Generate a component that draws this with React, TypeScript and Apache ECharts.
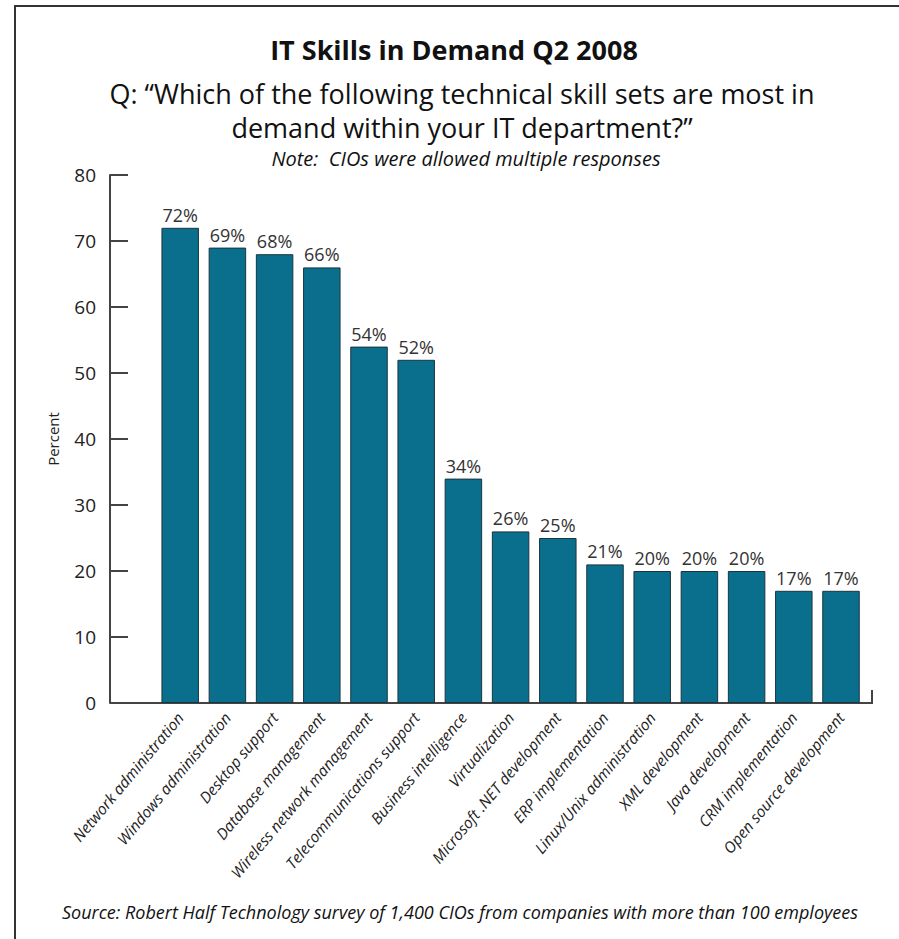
import React, { useEffect, useRef } from "react";
import * as echarts from "echarts";

const categories = [
  "Network administration",
  "Windows administration",
  "Desktop support",
  "Database management",
  "Wireless network management",
  "Telecommunications support",
  "Business intelligence",
  "Virtualization",
  "Microsoft .NET development",
  "ERP implementation",
  "Linux/Unix administration",
  "XML development",
  "Java development",
  "CRM implementation",
  "Open source development",
];
const percentValues = [72, 69, 68, 66, 54, 52, 34, 26, 25, 21, 20, 20, 20, 17, 17];
const yTicks = { min: 0, max: 80, interval: 10 };

const FONT = "'Open Sans', 'Noto Sans', sans-serif";
const TEXT = "#222";

export default function App() {
  const ref = useRef<HTMLDivElement>(null);
  useEffect(() => {
    document.body.style.margin = "0";
    if (!ref.current) return;
    const chart = echarts.init(ref.current, null, { renderer: "svg" });
    chart.setOption({
      animation: false,
      backgroundColor: "#ffffff",
      textStyle: { fontFamily: FONT },
      grid: { left: 156.6, right: 34.4, top: 175, bottom: 236 },
      xAxis: {
        type: "category",
        data: categories,
        axisLine: { show: false },
        axisTick: { show: false },
        axisLabel: {
          interval: 0,
          rotate: 50,
          margin: 11.5,
          padding: [0, 0, 8, 0],
          fontSize: 15.5,
          fontStyle: "italic",
          color: TEXT,
          fontFamily: FONT,
        },
      },
      yAxis: {
        type: "value",
        min: yTicks.min,
        max: yTicks.max,
        interval: yTicks.interval,
        offset: 46.6,
        name: "Percent",
        nameLocation: "middle",
        nameGap: 50,
        nameRotate: 90,
        nameTextStyle: { fontSize: 15, color: TEXT, fontFamily: FONT },
        axisLine: { show: true, lineStyle: { color: "#444", width: 2 } },
        axisTick: { show: true, inside: true, length: 18, lineStyle: { color: "#444", width: 2 } },
        axisLabel: { fontSize: 19, color: TEXT, margin: 14, fontFamily: FONT },
        splitLine: { show: false },
      },
      series: [
        {
          type: "bar",
          data: percentValues,
          barWidth: 37.5,
          itemStyle: { color: "#0a6f8c", borderColor: "#1b3540", borderWidth: 1 },
          label: {
            show: true,
            position: "top",
            distance: 4,
            formatter: "{c}%",
            fontSize: 18,
            color: "#333",
            fontFamily: FONT,
          },
        },
      ],
      graphic: [
        {
          type: "rect",
          shape: { x: 15, y: 6, width: 1000, height: 1000 },
          style: { fill: "none", stroke: "#333", lineWidth: 2 },
          silent: true,
        },
        {
          type: "polyline",
          shape: { points: [[110, 703], [872, 703], [872, 690]] },
          style: { fill: "none", stroke: "#444", lineWidth: 2 },
          silent: true,
        },
        {
          type: "text",
          x: 454,
          y: 49,
          style: {
            text: "IT Skills in Demand Q2 2008",
            font: `bold 27px ${FONT}`,
            fill: "#111",
            textAlign: "center",
            textVerticalAlign: "middle",
          },
        },
        {
          type: "text",
          x: 462,
          y: 93,
          style: {
            text: "Q: \u201cWhich of the following technical skill sets are most in",
            font: `27px ${FONT}`,
            fill: "#111",
            textAlign: "center",
            textVerticalAlign: "middle",
          },
        },
        {
          type: "text",
          x: 462,
          y: 127,
          style: {
            text: "demand within your IT department?\u201d",
            font: `27px ${FONT}`,
            fill: "#111",
            textAlign: "center",
            textVerticalAlign: "middle",
          },
        },
        {
          type: "text",
          x: 466,
          y: 158,
          style: {
            text: "Note:  CIOs were allowed multiple responses",
            font: `italic 20px ${FONT}`,
            fill: "#111",
            textAlign: "center",
            textVerticalAlign: "middle",
          },
        },
        {
          type: "text",
          x: 460,
          y: 912,
          style: {
            text: "Source: Robert Half Technology survey of 1,400 CIOs from companies with more than 100 employees",
            font: `italic 18px ${FONT}`,
            fill: "#111",
            textAlign: "center",
            textVerticalAlign: "middle",
          },
        },
      ],
    });
    return () => chart.dispose();
  }, []);
  return <div ref={ref} style={{ width: 899, height: 939 }} />;
}
